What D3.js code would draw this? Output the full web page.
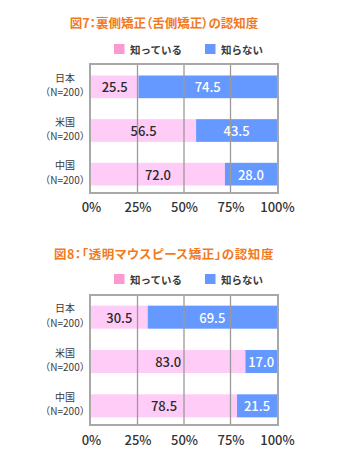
<!DOCTYPE html>
<html lang="ja">
<head>
<meta charset="utf-8">
<script src="https://cdn.jsdelivr.net/npm/d3@7"></script>
<style>
  html, body { margin: 0; padding: 0; background: #fff; }
  svg { display: block; font-family: "Noto Sans CJK JP", "Noto Sans", sans-serif; }
  .title { font-feature-settings: "palt"; }
</style>
</head>
<body>
<svg id="chart" width="338" height="460"></svg>
<script>
// Survey data: awareness of lingual braces (fig. 7) and clear aligners (fig. 8)
const categories = ["日本", "米国", "中国"];
const sampleLabel = "（N=200）";
const seriesNames = ["知っている", "知らない"];
const fig7Known   = [25.5, 56.5, 72.0];
const fig7Unknown = [74.5, 43.5, 28.0];
const fig8Known   = [30.5, 83.0, 78.5];
const fig8Unknown = [69.5, 17.0, 21.5];
const tickValues = [0, 25, 50, 75, 100];
const tickLabels = ["0%", "25%", "50%", "75%", "100%"];
const titles = ["図7：裏側矯正（舌側矯正）の認知度", "図8：「透明マウスピース矯正」の認知度"];

const barColors = ["#ffccf7", "#6699ff"];
const legendColors = ["#fb9ad0", "#6699ff"];
const labelColors = ["#2a2a2a", "#ffffff"];

const svg = d3.select("#chart");
const x = d3.scaleLinear().domain([0, 100]).range([91, 277]);

const panels = [
  { title: titles[0], known: fig7Known, unknown: fig7Unknown, titleSpacing: 0,
    titleY: 22, legendY: 49, top: 64, bottom: 193, band: [65, 196], axisY: 206 },
  { title: titles[1], known: fig8Known, unknown: fig8Unknown, titleSpacing: 0.6,
    titleY: 253, legendY: 279, top: 295, bottom: 425, band: [295, 428], axisY: 439 }
];

panels.forEach(p => {
  const g = svg.append("g");

  // title
  g.append("text")
    .attr("class", "title")
    .attr("x", 164).attr("y", p.titleY)
    .attr("text-anchor", "middle").attr("dominant-baseline", "central")
    .attr("font-size", 12.5).attr("font-weight", 700)
    .attr("letter-spacing", p.titleSpacing)
    .attr("fill", "#f27a1e")
    .text(p.title);

  // legend
  const legendX = [114, 205];
  seriesNames.forEach((name, i) => {
    g.append("rect")
      .attr("x", legendX[i]).attr("y", p.legendY - 5)
      .attr("width", 10.5).attr("height", 10)
      .attr("fill", legendColors[i]);
    g.append("text")
      .attr("x", legendX[i] + 16).attr("y", p.legendY)
      .attr("dominant-baseline", "central")
      .attr("font-size", 10.5).attr("font-weight", 700)
      .attr("fill", "#3a3a3a")
      .text(name);
  });

  const y = d3.scaleBand().domain(categories).range(p.band)
    .paddingInner(0.48).paddingOuter(0.24);

  const rows = categories.map((c, i) => ({ cat: c, known: p.known[i], unknown: p.unknown[i] }));
  const stack = d3.stack().keys(["known", "unknown"])(rows);

  // bars
  stack.forEach((layer, li) => {
    g.append("g").selectAll("rect").data(layer).join("rect")
      .attr("x", d => x(d[0]))
      .attr("width", d => x(d[1]) - x(d[0]))
      .attr("y", d => y(d.data.cat))
      .attr("height", y.bandwidth())
      .attr("fill", barColors[li]);
  });

  // gridlines
  g.append("g").selectAll("line").data(tickValues.slice(1, -1)).join("line")
    .attr("x1", d => x(d)).attr("x2", d => x(d))
    .attr("y1", p.top).attr("y2", p.bottom)
    .attr("stroke", "#9a9a9a").attr("stroke-width", 1.3);

  // plot frame
  g.append("rect")
    .attr("x", x(0) - 1).attr("y", p.top)
    .attr("width", x(100) - x(0) + 2).attr("height", p.bottom - p.top)
    .attr("fill", "none").attr("stroke", "#a8a8a8").attr("stroke-width", 2);

  // value labels
  stack.forEach((layer, li) => {
    g.append("g").selectAll("text").data(layer).join("text")
      .attr("x", d => (x(d[0]) + x(d[1])) / 2)
      .attr("y", d => y(d.data.cat) + y.bandwidth() / 2)
      .attr("text-anchor", "middle").attr("dominant-baseline", "central")
      .attr("font-size", 13).attr("font-weight", 500).attr("fill", labelColors[li])
      .text(d => (d[1] - d[0]).toFixed(1));
  });

  // category labels: name over sample size
  const cat = g.append("g").selectAll("g").data(categories).join("g")
    .attr("transform", d => `translate(65,${y(d) + y.bandwidth() / 2})`);
  cat.append("text")
    .attr("y", -9.5).attr("text-anchor", "middle").attr("dominant-baseline", "central")
    .attr("font-size", 10).attr("fill", "#3a3a3a")
    .text(d => d);
  cat.append("text")
    .attr("y", 5).attr("text-anchor", "middle").attr("dominant-baseline", "central")
    .attr("font-size", 10).attr("fill", "#3a3a3a")
    .text(sampleLabel);

  // x axis tick labels
  const axis = d3.axisBottom(x).tickValues(tickValues)
    .tickFormat((d, i) => tickLabels[i]).tickSize(0).tickPadding(0);
  const ag = g.append("g").attr("transform", `translate(0,${p.axisY})`).call(axis);
  ag.select(".domain").remove();
  ag.selectAll("text")
    .attr("y", 0).attr("dy", null)
    .attr("dominant-baseline", "central")
    .attr("font-size", 13).attr("font-weight", 500).attr("fill", "#333")
    .attr("font-family", "\"Noto Sans CJK JP\", sans-serif");
});
</script>
</body>
</html>
